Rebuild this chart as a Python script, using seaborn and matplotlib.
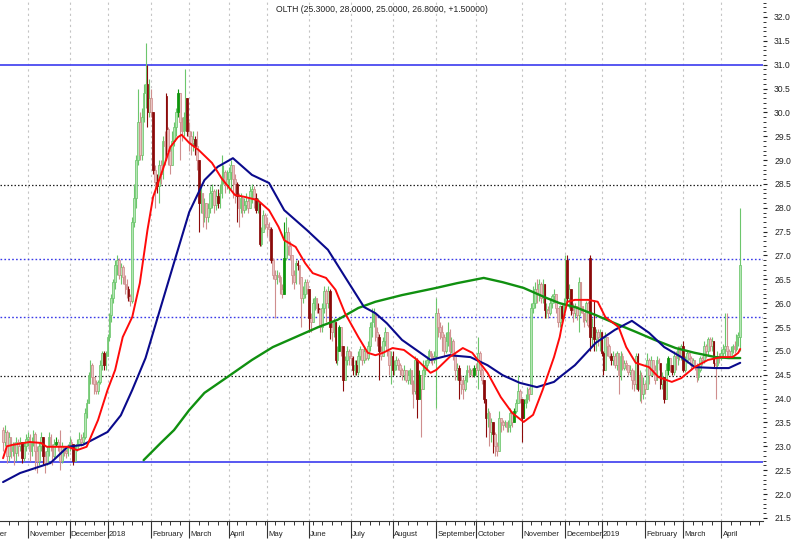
import numpy as np
import pandas as pd
import matplotlib
matplotlib.use("Agg")
import matplotlib.pyplot as plt
import matplotlib.transforms as mtransforms
from matplotlib.ticker import FixedLocator, FormatStrFormatter
import seaborn as sns

title = "OLTH (25.3000, 28.0000, 25.0000, 26.8000, +1.50000)"

# ---------------- daily bars (open = previous close unless listed in gap_open)
first_open = 23.35
close = [
    23.1, 23.3, 22.8, 23.2, 22.9, 23.0, 22.85, 23.1, 23.0, 23.1, 22.75, 23.0, 23.15,
    23.2, 22.9, 23.1, 23.25, 22.9, 22.7, 23.0, 23.2, 22.8, 22.65, 22.9, 23.2, 23.0, 22.8, 23.05, 23.1, 23.0, 22.7, 23.0, 22.9, 22.85, 23.0,
    23.1, 23.05, 22.7, 22.95, 23.05, 23.15, 23.1, 23.2, 23.7, 23.9, 24.5, 24.7, 24.45, 24.3, 24.15, 24.35, 24.7, 24.95, 24.7, 24.9,
    25.3, 25.75, 26.1, 26.45, 26.8, 26.9, 26.6, 26.75, 26.55, 26.4, 26.3, 26.15, 26.05, 27.7, 28.2, 29.0, 29.8, 29.1, 29.9, 30.4, 30.6, 30.0, 30.3,
    30.0, 28.8, 28.55, 28.45, 28.9, 28.7, 29.4, 29.3, 29.65, 29.2, 28.9, 29.4, 29.7, 30.0, 30.4, 29.8, 29.6, 29.9, 30.3, 29.6,
    29.5, 29.35, 29.45, 29.3, 29.0, 28.1, 28.3, 27.9, 28.1, 27.8, 28.0, 28.3, 28.35, 28.05, 28.25, 28.1, 28.3, 28.65, 28.75, 28.5, 28.6,
    28.75, 28.9, 28.6, 28.5, 28.25, 28.0, 28.2, 27.95, 28.05, 28.15, 28.0, 28.35, 28.4, 28.2, 27.95, 28.1, 27.25, 27.5, 27.85, 27.65,
    27.6, 27.55, 26.9, 26.6, 26.5, 26.6, 26.55, 26.3, 26.2, 26.95, 27.5, 27.2, 27.0, 26.6, 26.45, 26.85, 26.8, 26.55, 26.1, 26.2, 26.45, 26.3,
    25.7, 25.6, 26.0, 26.1, 25.9, 25.87, 25.5, 25.9, 26.25, 26.0, 26.25, 25.5, 25.4, 25.6, 24.8, 25.0, 25.5, 25.1, 24.4, 24.8, 25.0, 24.9,
    24.85, 24.6, 24.7, 24.55, 24.9, 25.05, 24.8, 25.0, 24.85, 25.1, 25.5, 25.6, 25.8, 25.4, 25.3, 25.0, 24.9, 25.2, 25.4, 25.0, 24.7, 24.9,
    24.6, 24.7, 24.8, 24.7, 24.6, 24.5, 24.6, 24.4, 24.5, 24.6, 24.3, 24.15, 24.8, 24.0, 24.5, 24.2, 24.6, 24.7, 24.8, 25.0, 24.9, 24.8, 24.9,
    25.8, 25.5, 25.4, 25.3, 25.0, 25.2, 25.4, 25.0, 25.2, 24.9, 24.6, 24.65, 24.4, 24.3, 24.2, 24.4, 24.6, 24.55, 24.6, 24.5, 24.65,
    24.6, 24.95, 24.6, 24.4, 24.0, 23.6, 23.7, 23.3, 23.5, 23.25, 23.0, 22.9, 23.6, 23.5, 23.45, 23.5, 23.4, 23.45, 23.7, 23.5, 23.75, 23.9, 24.15, 24.0,
    23.6, 23.9, 24.0, 24.2, 24.1, 25.9, 26.0, 26.3, 26.2, 26.4, 26.1, 26.4, 25.85, 25.85, 25.8, 26.0, 26.15, 26.2, 25.9, 25.6, 25.95, 25.7, 26.0,
    26.9, 26.1, 26.3, 25.85, 25.8, 25.95, 25.75, 26.45, 25.95, 25.8, 25.65, 26.0, 25.55, 25.3, 25.5, 25.25, 25.4, 25.3, 25.4,
    24.95, 24.6, 25.3, 25.1, 24.9, 24.8, 24.9, 24.7, 24.95, 24.5, 24.9, 24.65, 24.75, 24.7, 24.55, 24.6, 24.4, 24.3, 24.9, 24.2, 24.5, 24.1, 24.3,
    24.2, 24.8, 24.5, 24.8, 24.6, 24.4, 24.8, 24.75, 24.3, 24.45, 24.0, 24.6, 24.85, 24.7, 24.55, 24.9, 24.85, 25.05, 24.9, 25.1,
    24.6, 24.8, 24.95, 24.85, 24.7, 24.8, 24.7, 24.45, 24.6, 24.85, 24.8, 25.1, 25.0, 25.25, 25.1, 25.2, 24.75, 24.7, 24.9, 24.85,
    24.95, 25.05, 25.1, 25.0, 24.9, 25.0, 25.1, 25.05, 25.3, 25.3, 26.8,
]
high = [
    23.4, 23.45, 23.35, 23.3, 23.2, 23.1, 23.1, 23.2, 23.15, 23.2, 23.0, 23.1, 23.25,
    23.3, 23.25, 23.2, 23.35, 23.3, 23.0, 23.1, 23.3, 23.2, 22.9, 23.0, 23.3, 23.25, 23.05, 23.15, 23.2, 23.15, 23.35, 23.1, 23.0, 22.95, 23.05,
    23.2, 23.15, 23.05, 23.0, 23.15, 23.3, 23.25, 23.3, 23.8, 24.0, 24.55, 24.8, 24.75, 24.45, 24.4, 24.4, 24.8, 25.0, 25.0, 25.0,
    25.35, 25.8, 26.2, 26.5, 26.9, 27.0, 26.95, 26.85, 26.8, 26.6, 26.5, 26.35, 26.2, 27.8, 28.5, 29.1, 30.5, 30.0, 30.1, 30.6, 31.45, 31.0, 30.7,
    30.5, 30.0, 28.9, 28.7, 29.0, 29.0, 29.5, 29.6, 30.4, 29.7, 29.3, 29.6, 29.8, 30.1, 30.5, 30.2, 29.9, 30.0, 30.9, 30.0,
    29.8, 29.6, 29.6, 29.5, 29.6, 29.0, 28.5, 28.3, 28.2, 28.1, 28.1, 28.45, 28.5, 28.4, 28.4, 28.4, 28.5, 29.1, 28.9, 28.8, 28.8,
    28.85, 29.0, 28.9, 28.7, 28.55, 28.3, 28.3, 28.25, 28.2, 28.3, 28.2, 28.45, 28.5, 28.45, 28.3, 28.2, 28.1, 27.6, 27.95, 27.9,
    27.8, 27.7, 27.6, 26.95, 26.7, 26.7, 26.65, 26.6, 26.4, 27.7, 27.8, 27.6, 27.3, 27.0, 26.7, 26.9, 26.9, 26.8, 26.5, 26.35, 26.5, 26.5,
    26.3, 25.8, 26.1, 26.15, 26.1, 26.0, 25.9, 26.0, 26.35, 26.3, 26.35, 26.3, 25.6, 25.7, 25.6, 25.1, 25.55, 25.5, 25.1, 24.9, 25.1, 25.05,
    25.0, 24.9, 24.8, 24.8, 25.0, 25.1, 25.05, 25.1, 25.0, 25.2, 25.6, 25.9, 25.9, 25.8, 25.5, 25.35, 25.1, 25.3, 25.5, 25.4, 25.0, 25.0,
    25.0, 24.8, 24.9, 24.85, 24.75, 24.65, 24.7, 24.6, 24.6, 24.65, 24.6, 24.4, 24.9, 24.85, 24.6, 24.5, 24.8, 24.8, 24.9, 25.05, 25.0, 24.95, 25.0,
    26.1, 25.9, 25.6, 25.55, 25.35, 25.4, 25.6, 25.45, 25.3, 25.25, 24.95, 24.75, 24.7, 24.5, 24.45, 24.5, 24.7, 24.7, 24.65, 24.65, 24.7,
    24.75, 25.3, 25.0, 24.65, 24.4, 24.0, 23.8, 23.75, 23.6, 23.5, 23.3, 23.1, 23.75, 23.6, 23.55, 23.55, 23.5, 23.55, 23.8, 23.75, 23.8, 24.0, 24.5, 24.2,
    24.0, 24.0, 24.1, 24.25, 24.25, 26.0, 26.35, 26.45, 26.5, 26.5, 26.45, 26.5, 26.4, 26.0, 25.95, 26.1, 26.2, 26.3, 26.2, 25.9, 25.97, 25.96, 26.1,
    27.0, 27.0, 26.4, 26.3, 26.0, 26.0, 25.95, 26.55, 26.4, 25.95, 25.8, 26.05, 26.05, 27.0, 25.7, 26.07, 25.45, 25.45, 25.45,
    25.3, 25.0, 25.4, 25.3, 25.15, 24.95, 25.0, 24.95, 25.0, 24.95, 25.0, 24.95, 24.8, 24.8, 24.7, 24.7, 24.65, 24.6, 24.95, 24.95, 24.6, 24.55, 24.45,
    24.35, 24.95, 24.85, 24.9, 24.8, 24.7, 24.9, 24.85, 24.75, 24.55, 24.45, 24.75, 24.9, 24.85, 24.7, 25.0, 25.0, 25.1, 25.1, 25.15,
    25.2, 24.9, 25.0, 24.95, 24.9, 24.85, 24.8, 24.75, 24.7, 24.9, 24.9, 25.2, 25.15, 25.3, 25.3, 25.3, 25.2, 24.85, 25.0, 24.95,
    25.05, 25.15, 25.8, 25.8, 25.05, 25.1, 25.15, 25.2, 25.35, 25.4, 28.0,
]
low = [
    22.9, 23.0, 22.65, 22.7, 22.75, 22.8, 22.6, 22.7, 22.8, 22.9, 22.65, 22.7, 22.9,
    23.0, 22.7, 22.8, 23.0, 22.5, 22.45, 22.6, 22.9, 22.6, 22.45, 22.6, 22.8, 22.9, 22.6, 22.75, 23.0, 22.9, 22.5, 22.65, 22.8, 22.75, 22.8,
    22.9, 22.95, 22.6, 22.7, 22.9, 23.0, 23.0, 23.05, 23.15, 23.6, 23.9, 24.3, 24.3, 24.1, 24.1, 24.1, 24.3, 24.6, 24.6, 24.6,
    24.9, 25.2, 25.6, 26.0, 26.3, 26.6, 26.5, 26.4, 26.4, 26.2, 26.1, 26.05, 25.95, 26.0, 27.6, 28.0, 28.9, 29.0, 29.0, 29.8, 30.1, 29.7, 29.9,
    29.9, 28.7, 28.0, 28.3, 28.1, 28.5, 28.6, 28.9, 29.0, 28.9, 28.7, 28.9, 29.3, 29.5, 29.9, 29.0, 29.4, 29.5, 29.6, 29.5,
    29.2, 29.1, 29.2, 29.1, 28.8, 27.5, 27.9, 27.6, 27.7, 27.55, 27.7, 27.9, 28.0, 27.9, 27.95, 28.0, 28.0, 28.2, 28.5, 28.3, 28.4,
    28.3, 28.4, 28.2, 28.1, 27.7, 27.6, 27.9, 27.8, 27.9, 27.95, 27.9, 28.0, 28.1, 28.0, 27.9, 27.9, 27.2, 27.2, 27.5, 27.55,
    27.4, 27.3, 26.85, 26.5, 25.7, 26.4, 26.45, 26.2, 26.1, 26.2, 26.9, 27.0, 26.9, 26.4, 26.3, 26.4, 26.7, 26.4, 25.5, 26.0, 26.1, 26.2,
    25.4, 25.4, 25.6, 25.85, 25.8, 25.8, 25.4, 25.4, 25.8, 25.6, 25.9, 25.25, 25.2, 25.3, 24.75, 24.7, 25.0, 24.9, 24.15, 24.4, 24.7, 24.7,
    24.7, 24.5, 24.5, 24.5, 24.5, 24.8, 24.7, 24.75, 24.8, 24.8, 25.0, 25.3, 25.5, 25.2, 25.1, 24.4, 24.8, 24.9, 25.1, 24.9, 24.5, 24.3,
    24.5, 24.5, 24.6, 24.6, 24.5, 24.4, 24.4, 24.35, 24.3, 24.3, 24.1, 23.8, 24.1, 23.6, 24.0, 23.2, 24.2, 24.5, 24.6, 24.75, 24.75, 24.7, 24.75,
    23.8, 25.3, 25.25, 25.0, 24.9, 24.95, 25.1, 24.9, 24.95, 24.8, 24.4, 24.4, 24.0, 24.1, 24.0, 24.15, 24.35, 24.45, 24.5, 24.45, 24.45,
    24.5, 24.2, 24.5, 24.3, 23.9, 23.2, 23.4, 23.0, 23.1, 22.85, 22.8, 22.8, 22.9, 23.3, 23.35, 23.4, 23.3, 23.3, 23.3, 23.4, 23.5, 23.7, 23.9, 23.9,
    23.1, 23.6, 23.8, 23.9, 23.95, 24.1, 25.8, 25.9, 26.0, 26.05, 26.0, 26.0, 25.7, 25.7, 25.7, 25.75, 25.9, 26.0, 25.8, 25.5, 25.5, 25.65, 25.7,
    25.95, 26.05, 25.9, 25.75, 25.6, 25.7, 25.65, 25.4, 25.8, 25.6, 25.5, 25.6, 25.5, 25.0, 25.1, 25.0, 25.0, 25.1, 25.0,
    24.9, 24.5, 24.6, 24.9, 24.85, 24.7, 24.7, 24.65, 24.6, 24.1, 24.4, 24.6, 24.6, 24.6, 24.5, 24.5, 24.2, 24.15, 24.2, 24.15, 23.95, 23.9, 24.0,
    24.1, 24.2, 24.3, 24.5, 24.5, 24.3, 24.4, 24.6, 24.2, 24.2, 23.9, 24.0, 24.5, 24.55, 24.5, 24.5, 24.6, 24.7, 24.8, 24.8,
    24.55, 24.55, 24.75, 24.8, 24.6, 24.65, 24.6, 24.35, 24.4, 24.55, 24.7, 24.75, 24.85, 24.9, 25.0, 25.0, 24.65, 24.0, 24.65, 24.75,
    24.8, 24.85, 24.9, 24.9, 24.85, 24.85, 24.95, 24.95, 25.0, 25.1, 25.0,
]
gap_open = {86: 30.35, 309: 26.95, 388: 25.3}
dark_red = [10, 21, 37, 53, 66, 76, 79, 81, 86, 97, 101, 103, 113, 123, 133, 135, 141, 155,
            161, 166, 172, 175, 179, 184, 186, 198, 205, 218, 240, 253, 254, 258, 273, 285,
            294, 297, 299, 309, 311, 315, 316, 320, 334, 346, 348, 352, 358, 374]
dark_green = [28, 92, 148, 177, 219, 248, 269, 274, 350]

# ---------------- moving averages (bar index, value)
red_idx = [0, 2, 5, 14, 20, 23, 34, 39, 44, 50, 55, 59, 63, 68, 72, 76, 79, 84, 88, 92, 94, 98,
           103, 110, 115, 122, 127, 134, 140, 145, 148, 154, 159, 163, 170, 175, 180, 187, 192,
           196, 200, 205, 211, 218, 225, 228, 235, 242, 247, 255, 262, 268, 274, 279, 284, 290,
           293, 294, 297, 301, 308, 313, 317, 324, 328, 333, 340, 345, 352, 357, 364, 371, 378,
           384, 387, 388]
red_val = [22.75, 23.0, 23.03, 23.09, 23.07, 22.99, 22.99, 22.92, 22.99, 23.55, 24.18, 24.6, 25.29,
           25.71, 26.42, 27.53, 28.23, 28.79, 29.27, 29.48, 29.53, 29.36, 29.21, 28.94, 28.62,
           28.27, 28.23, 28.16, 27.95, 27.6, 27.32, 27.18, 26.84, 26.63, 26.53, 26.28, 25.79,
           25.29, 24.96, 24.91, 24.96, 25.06, 25.02, 24.81, 24.54, 24.6, 24.87, 25.06, 24.96,
           24.54, 24.03, 23.7, 23.51, 23.66, 24.18, 24.87, 25.29, 25.5, 26.03, 26.07, 26.07,
           26.03, 25.71, 25.5, 25.08, 24.75, 24.66, 24.45, 24.35, 24.43, 24.66, 24.81, 24.87,
           24.87, 24.96, 25.04]
blue_idx = [0, 9, 25, 34, 42, 55, 62, 68, 75, 81, 90, 98, 106, 113, 121, 131, 140, 148, 160, 171,
            180, 190, 196, 202, 210, 225, 235, 246, 255, 263, 272, 281, 290, 293, 301, 312, 322,
            331, 340, 348, 357, 364, 375, 382, 388]
blue_val = [22.25, 22.44, 22.65, 22.99, 23.03, 23.30, 23.65, 24.18, 24.85, 25.65, 26.85, 27.91,
            28.58, 28.86, 29.04, 28.69, 28.52, 27.95, 27.53, 27.12, 26.55, 25.92, 25.79, 25.58,
            25.23, 24.81, 24.91, 24.87, 24.70, 24.49, 24.33, 24.24, 24.35, 24.45, 24.70, 25.17,
            25.44, 25.63, 25.38, 25.08, 24.87, 24.66, 24.64, 24.64, 24.75]
green_idx = [74, 83, 90, 98, 106, 118, 131, 142, 154, 166, 176, 187, 196, 210, 228, 239, 253,
             263, 274, 286, 293, 301, 312, 322, 333, 343, 354, 364, 375, 382, 388]
green_val = [22.71, 23.07, 23.34, 23.76, 24.12, 24.45, 24.81, 25.08, 25.29, 25.50, 25.65, 25.90,
             26.03, 26.17, 26.32, 26.42, 26.53, 26.44, 26.32, 26.11, 26.00, 25.92, 25.75, 25.58,
             25.40, 25.23, 25.06, 24.96, 24.87, 24.85, 24.85]

# ---------------- horizontal levels
solid_levels = [31.0, 22.67]
blue_dotted_levels = [26.93, 25.71]
black_dotted_levels = [28.48, 24.47]

# ---------------- month axis
month_labels = ["October", "November", "December", "2018", "February", "March", "April", "May",
                "June", "July", "August", "September", "October", "November", "December", "2019",
                "February", "March", "April"]
month_start = [-13, 13, 35, 55, 78, 98, 119, 139, 161, 183, 205, 228, 249, 273, 296, 315, 338,
               358, 378]

n = len(close)
assert len(high) == n and len(low) == n, (n, len(high), len(low))

c = np.array(close, dtype=float)
o = np.empty(n)
o[0] = first_open
o[1:] = c[:-1]
for k, v in gap_open.items():
    o[k] = v
h = np.maximum(np.array(high, dtype=float), np.maximum(o, c))
l = np.minimum(np.array(low, dtype=float), np.minimum(o, c))
idx = np.arange(n)

kind = np.where(c >= o, "up", "down").astype(object)
kind[dark_red] = "dred"
kind[dark_green] = "dgreen"
bars = pd.DataFrame({"idx": idx, "open": o, "high": h, "low": l, "close": c, "kind": kind})

styles = {
    "up": dict(face="#b4e6b4", edge="#6cc66c"),
    "down": dict(face="#ebc4c4", edge="#cf8e8e"),
    "dgreen": dict(face="#0c960c", edge="#0c960c"),
    "dred": dict(face="#8b0a0a", edge="#8b0a0a"),
}

sns.set_style("white")
plt.rcParams["font.family"] = ["Liberation Sans", "DejaVu Sans"]
FS = 6.2
FS_MONTH = 5.6

fig = plt.figure(figsize=(7.92, 5.42), dpi=100)
ax = fig.add_axes([0.0, 21 / 542, 763 / 792, 521 / 542])
ax.set_facecolor("white")

# grid (vertical month lines)
for m in month_start:
    ax.axvline(m, color="#c4c4c4", lw=0.8, ls=(0, (2, 3)), zorder=0)

# levels
for y in solid_levels:
    ax.axhline(y, color="#4a4af0", lw=1.3, zorder=1)
for y in blue_dotted_levels:
    ax.axhline(y, color="#3a3ae8", lw=1.0, ls=(0, (1.2, 1.6)), zorder=1)
for y in black_dotted_levels:
    ax.axhline(y, color="#222222", lw=0.9, ls=(0, (1.2, 1.6)), zorder=1)

# candles
for k in ["up", "down", "dgreen", "dred"]:
    d = bars[bars["kind"] == k]
    st = styles[k]
    ax.vlines(d["idx"], d["low"], d["high"], color=st["edge"], lw=0.8, zorder=2)
    bottom = np.minimum(d["open"], d["close"])
    height = np.maximum(np.abs(d["close"] - d["open"]), 0.03)
    ax.bar(d["idx"], height, bottom=bottom, width=0.9, color=st["face"],
           edgecolor=st["edge"], linewidth=0.55, zorder=3)

# moving averages
sns.lineplot(x=green_idx, y=green_val, ax=ax, color="#109010", linewidth=1.7,
             estimator=None, sort=False, legend=False, zorder=5)
sns.lineplot(x=blue_idx, y=blue_val, ax=ax, color="#0a0a8c", linewidth=1.5,
             estimator=None, sort=False, legend=False, zorder=6)
sns.lineplot(x=red_idx, y=red_val, ax=ax, color="#ff0a0a", linewidth=1.4,
             estimator=None, sort=False, legend=False, zorder=7)

ax.set_xlim(-1.6, 400)
ax.set_ylim(21.434, 32.356)
ax.set_xlabel("")
ax.set_ylabel("")

# right price axis
ax.yaxis.tick_right()
ax.yaxis.set_major_locator(FixedLocator(np.round(np.arange(21.5, 32.01, 0.5), 1)))
ax.yaxis.set_minor_locator(FixedLocator(np.round(np.arange(21.5, 32.36, 0.1), 2)))
ax.yaxis.set_major_formatter(FormatStrFormatter("%.1f"))
ax.tick_params(axis="y", which="major", direction="out", length=3, width=0.8,
               pad=5, labelsize=FS, colors="#222222", right=True, left=False)
ax.tick_params(axis="y", which="minor", direction="out", length=2.2, width=0.7,
               colors="#333333", right=True, left=False)

# bottom time axis
visible_months = [m for m in month_start if m >= 0]
ax.xaxis.set_major_locator(FixedLocator(visible_months))
ax.xaxis.set_minor_locator(FixedLocator([t for t in range(3, 400, 5)]))
ax.xaxis.set_major_formatter(plt.NullFormatter())
ax.tick_params(axis="x", which="major", direction="out", length=12, width=0.8,
               colors="#333333", bottom=True)
ax.tick_params(axis="x", which="minor", direction="out", length=3, width=0.7,
               colors="#333333", bottom=True)

trans = mtransforms.blended_transform_factory(ax.transData, ax.transAxes)
for lab, m in zip(month_labels, month_start):
    ax.text(m + 0.7, -0.026, lab, transform=trans, ha="left", va="center",
            fontsize=FS_MONTH, color="#222222", clip_on=False)

for s in ["left", "top", "right"]:
    ax.spines[s].set_visible(False)
ax.spines["bottom"].set_color("#333333")
ax.spines["bottom"].set_linewidth(0.8)

fig.text(382 / 792, 1 - 10 / 542, title, ha="center", va="center", fontsize=FS,
         color="#222222")

fig.savefig("out.png", dpi=100)
